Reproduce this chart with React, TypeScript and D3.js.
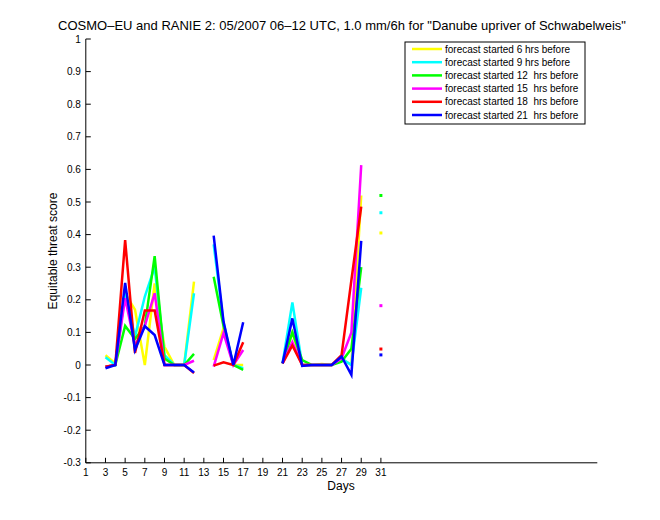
import React from "react";
import * as d3 from "d3";

const days = d3.range(3, 32);
const labels = [
  "forecast started 6 hrs before",
  "forecast started 9 hrs before",
  "forecast started 12  hrs before",
  "forecast started 15  hrs before",
  "forecast started 18  hrs before",
  "forecast started 21  hrs before",
];
const colors = ["#ffff00", "#00ffff", "#00ff00", "#ff00ff", "#ff0000", "#0000ff"];
const N = null;
// days 3..31
const s6 = [0.03, 0.005, 0.22, 0.17, 0.0, 0.25, 0.056, 0, 0, 0.256, N, 0.015, 0.113, 0.0, 0.0, N, N, N, 0.005, 0.10, 0.0, 0.0, 0.003, 0.0, 0.02, 0.0, 0.52, N, 0.405];
const s9 = [0.024, 0.0, 0.22, 0.087, 0.21, 0.30, 0.03, 0, 0, 0.22, N, 0.37, 0.13, 0.0, -0.01, N, N, N, 0.005, 0.192, 0.0, 0, 0, 0, 0.02, 0.0, 0.237, N, 0.467];
const s12 = [-0.005, 0.0, 0.12, 0.08, 0.12, 0.334, 0.02, 0, 0, 0.034, N, 0.271, 0.12, 0.0, -0.015, N, N, N, 0.005, 0.10, 0.015, 0.0, 0, 0, 0.01, 0.05, 0.30, N, 0.52];
const s15 = [-0.005, 0.0, 0.205, 0.06, 0.12, 0.22, 0.0, 0, 0, 0.013, N, -0.005, 0.098, 0.0, 0.046, N, N, N, 0.005, 0.07, 0.0, 0, 0, 0, 0.02, 0.1, 0.613, N, 0.182];
const s18 = [-0.005, 0.0, 0.383, 0.037, 0.167, 0.167, 0.0, 0, 0, -0.025, N, -0.002, 0.008, 0.0, 0.07, N, N, N, 0.005, 0.06, 0.0, 0, 0, 0, 0.03, 0.26, 0.486, N, 0.049];
const s21 = [-0.01, 0.0, 0.252, 0.046, 0.119, 0.092, 0, 0, 0, -0.023, N, 0.397, 0.133, 0.0, 0.131, N, N, N, 0.005, 0.143, -0.003, 0, 0, 0, 0.026, -0.03, 0.381, N, 0.031];
const series = [s6, s9, s12, s15, s18, s21];
const xTicks = d3.range(1, 32, 2);
const yTicks = d3.range(-3, 11).map((v) => v / 10);

const W = 660, H = 520;
const L = 85.8, R = 597.3, T = 39, B = 462.8;
const font = "Liberation Sans, Arial, Helvetica, sans-serif";

export default function App() {
  const x = d3.scaleLinear().domain([1, 53]).range([L, R]);
  const y = d3.scaleLinear().domain([-0.3, 1]).range([B, T]);
  const line = d3
    .line<number | null>()
    .defined((d) => d !== null)
    .x((_, i) => x(days[i]))
    .y((d) => y(d as number));
  const isolated = (s: (number | null)[]) =>
    s
      .map((v, i) => ({ v, i }))
      .filter(
        (o) => o.v !== null && (o.i === 0 || s[o.i - 1] === null) && (o.i === s.length - 1 || s[o.i + 1] === null)
      );
  return (
    <svg width={W} height={H} style={{ position: "absolute", left: 0, top: 0, background: "#fff" }} fontFamily={font}>
      <rect width={W} height={H} fill="#fff" />
      <text x={342} y={30} textAnchor="middle" fontSize={13}>
        COSMO–EU and RANIE 2: 05/2007 06–12 UTC, 1.0 mm/6h for "Danube upriver of Schwabelweis"
      </text>
      {/* axes */}
      <line x1={L} x2={R} y1={B} y2={B} stroke="#000" />
      <line x1={L} x2={L} y1={T} y2={B} stroke="#000" />
      {yTicks.map((t) => (
        <g key={t}>
          <line x1={L} x2={L + 5} y1={y(t)} y2={y(t)} stroke="#000" />
          <text x={L - 5} y={y(t) + 3.5} textAnchor="end" fontSize={10}>
            {t === 1 ? "1" : t === 0 ? "0" : d3.format(".1f")(t).replace("−", "-")}
          </text>
        </g>
      ))}
      {xTicks.map((t) => (
        <g key={t}>
          <line x1={x(t)} x2={x(t)} y1={B} y2={B - 5} stroke="#000" />
          <text x={x(t)} y={B + 13} textAnchor="middle" fontSize={10}>
            {t}
          </text>
        </g>
      ))}
      <text x={341} y={490} textAnchor="middle" fontSize={12}>
        Days
      </text>
      <text transform="translate(57,251) rotate(-90)" textAnchor="middle" fontSize={12}>
        Equitable threat score
      </text>
      {series.map((s, k) => (
        <g key={k}>
          <path d={line(s) || ""} fill="none" stroke={colors[k]} strokeWidth={2.5} />
          {isolated(s).map((o) => (
            <rect key={o.i} x={x(days[o.i]) - 1.5} y={y(o.v as number) - 1.5} width={3} height={3} fill={colors[k]} />
          ))}
        </g>
      ))}
      {/* legend */}
      <rect x={405} y={42} width={180} height={82} fill="#fff" stroke="#000" />
      {labels.map((lab, k) => {
        const yy = 49 + k * 13.2;
        return (
          <g key={k}>
            <line x1={412} x2={442} y1={yy} y2={yy} stroke={colors[k]} strokeWidth={2.5} />
            <text x={445} y={yy + 3.5} fontSize={10} style={{ whiteSpace: "pre" }}>
              {lab}
            </text>
          </g>
        );
      })}
    </svg>
  );
}
